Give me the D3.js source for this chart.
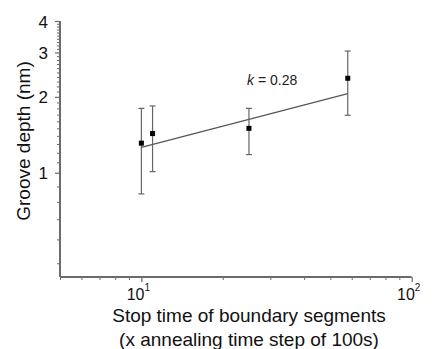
<!DOCTYPE html>
<html>
<head>
<meta charset="utf-8">
<script src="https://cdn.jsdelivr.net/npm/d3@7"></script>
<style>
  body { margin: 0; background: #fff; }
  svg { display: block; font-family: Arial, "Liberation Sans", sans-serif; }
</style>
</head>
<body>
<div id="chart"></div>
<script>
// --- data ---
const stopTimes = [10, 11, 25, 58];
const grooveDepth = [1.31, 1.43, 1.50, 2.37];
const errLow = [0.85, 1.01, 1.18, 1.69];
const errHigh = [1.80, 1.84, 1.80, 3.04];

// power-law fit  d = A * t^k
const fitK = 0.28;
const fitA = 0.661;
const fitRange = [10, 58];

const yTickValues = [1, 2, 3, 4];
const xTickValues = [10, 100];
const xMinorTicks = [5, 6, 7, 8, 9, 20, 30, 40, 50, 60, 70, 80, 90];

const width = 433, height = 349;

const svg = d3.select("#chart").append("svg")
  .attr("width", width)
  .attr("height", height);

// axes
const x = d3.scaleLog().domain([5, 100]).range([60, 411.7]);
// the printed y axis is slightly uneven: below 1 is more spread than above
const y = d3.scaleLog().domain([0.45, 1, 4]).range([277, 172.7, 21]);

const axisColor = "#6b6b6b";

// minor y ticks every 0.1
const yMinor = d3.range(5, 40).map(d => d / 10).filter(d => !yTickValues.includes(d));

svg.append("g")
  .attr("transform", "translate(60,0)")
  .call(d3.axisLeft(y).tickValues(yMinor).tickSize(3).tickFormat(""))
  .call(g => g.select(".domain").remove())
  .selectAll("line").attr("stroke", axisColor).attr("stroke-width", 1);

const yAxis = svg.append("g")
  .attr("transform", "translate(60,0)")
  .call(d3.axisLeft(y).tickValues(yTickValues).tickSize(5).tickSizeOuter(0).tickPadding(7).tickFormat(d3.format("d")));
yAxis.select(".domain").attr("stroke", axisColor).attr("stroke-width", 2)
  .attr("d", `M0,${y(0.45)}V${y(4)}`);
yAxis.selectAll("line").attr("stroke", axisColor).attr("stroke-width", 1.2);
yAxis.selectAll("text")
  .attr("fill", "#111")
  .style("font-size", "17px")
  .attr("dy", "0.36em");

svg.append("g")
  .attr("transform", "translate(0,277)")
  .call(d3.axisBottom(x).tickValues(xMinorTicks).tickSize(3).tickFormat(""))
  .call(g => g.select(".domain").remove())
  .selectAll("line").attr("stroke", axisColor).attr("stroke-width", 1);

const xAxis = svg.append("g")
  .attr("transform", "translate(0,277)")
  .call(d3.axisBottom(x).tickValues(xTickValues).tickSize(5).tickSizeOuter(0).tickFormat(""));
xAxis.select(".domain").attr("stroke", axisColor).attr("stroke-width", 2)
  .attr("d", `M${x(5)},0H${x(100)}`);
xAxis.selectAll("line").attr("stroke", axisColor).attr("stroke-width", 1.2);

// 10^n labels
const xLab = svg.append("g").selectAll("text")
  .data(xTickValues)
  .join("text")
  .attr("x", d => x(d) - 3)
  .attr("y", 300)
  .attr("text-anchor", "middle")
  .attr("fill", "#111")
  .style("font-size", "16px");
xLab.append("tspan").text("10");
xLab.append("tspan")
  .attr("dy", -9)
  .style("font-size", "10px")
  .text(d => Math.round(Math.log10(d)));

// axis titles
svg.append("text")
  .attr("transform", "translate(30,141) rotate(-90)")
  .attr("text-anchor", "middle")
  .attr("fill", "#111")
  .style("font-size", "19px")
  .text("Groove depth (nm)");

svg.append("text")
  .attr("x", 249)
  .attr("y", 322)
  .attr("text-anchor", "middle")
  .attr("fill", "#111")
  .style("font-size", "19px")
  .text("Stop time of boundary segments");

svg.append("text")
  .attr("x", 249)
  .attr("y", 346)
  .attr("text-anchor", "middle")
  .attr("fill", "#111")
  .style("font-size", "19px")
  .text("(x annealing time step of 100s)");

// fit line
const fitPts = fitRange.map(t => [t, fitA * Math.pow(t, fitK)]);
svg.append("path")
  .datum(fitPts)
  .attr("fill", "none")
  .attr("stroke", "#555")
  .attr("stroke-width", 1.2)
  .attr("d", d3.line().x(d => x(d[0])).y(d => y(d[1])));

// error bars
const pts = stopTimes.map((t, i) => ({ t, v: grooveDepth[i], lo: errLow[i], hi: errHigh[i] }));
const eb = svg.append("g").attr("stroke", "#666").attr("stroke-width", 1.2);
eb.selectAll(".v").data(pts).join("line")
  .attr("x1", d => x(d.t)).attr("x2", d => x(d.t))
  .attr("y1", d => y(d.lo)).attr("y2", d => y(d.hi));
eb.selectAll(".cap-top").data(pts).join("line")
  .attr("x1", d => x(d.t) - 3).attr("x2", d => x(d.t) + 3)
  .attr("y1", d => y(d.hi)).attr("y2", d => y(d.hi));
eb.selectAll(".cap-bot").data(pts).join("line")
  .attr("x1", d => x(d.t) - 3).attr("x2", d => x(d.t) + 3)
  .attr("y1", d => y(d.lo)).attr("y2", d => y(d.lo));

// markers
svg.append("g").selectAll("rect")
  .data(pts)
  .join("rect")
  .attr("x", d => x(d.t) - 2.5)
  .attr("y", d => y(d.v) - 2.5)
  .attr("width", 5)
  .attr("height", 5)
  .attr("fill", "#000");

// slope annotation
const ann = svg.append("text")
  .attr("x", 247)
  .attr("y", 85)
  .attr("fill", "#222")
  .style("font-size", "14px");
ann.append("tspan").style("font-style", "italic").text("k");
ann.append("tspan").text(" = 0.28");
</script>
</body>
</html>
